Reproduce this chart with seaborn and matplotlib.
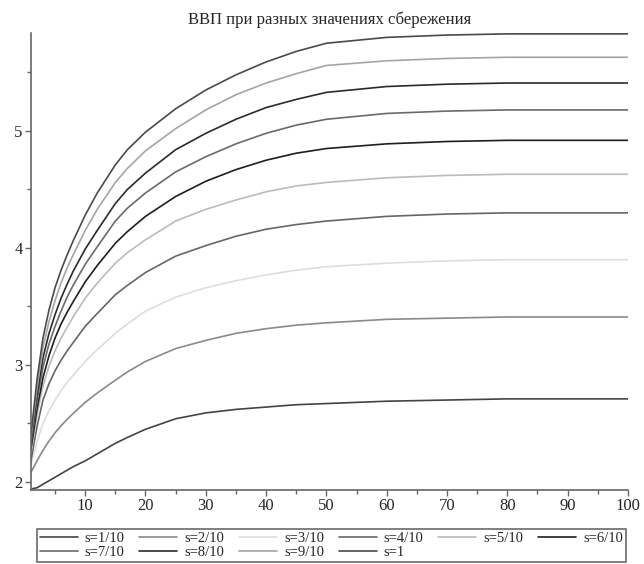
import pandas as pd
import seaborn as sns
import matplotlib.pyplot as plt
from matplotlib.ticker import MultipleLocator

# ------------------------------- Data ----------------------------------------------

t = [1, 2, 3, 4, 5, 6, 7, 8, 10, 12, 15, 17, 20, 25, 30, 35, 40, 45, 50, 60, 70, 80, 90, 100]

labels = ["s=1/10", "s=2/10", "s=3/10", "s=4/10", "s=5/10",
          "s=6/10", "s=7/10", "s=8/10", "s=9/10", "s=1"]

gdp_s01 = [1.94, 1.95, 1.98, 2.01, 2.04, 2.07, 2.10, 2.13, 2.18, 2.24, 2.33, 2.38, 2.45, 2.54, 2.59, 2.62, 2.64, 2.66, 2.67, 2.69, 2.70, 2.71, 2.71, 2.71]
gdp_s02 = [2.08, 2.18, 2.27, 2.35, 2.42, 2.48, 2.535, 2.585, 2.68, 2.76, 2.87, 2.94, 3.03, 3.14, 3.21, 3.27, 3.31, 3.34, 3.36, 3.39, 3.40, 3.41, 3.41, 3.41]
gdp_s03 = [2.14, 2.34, 2.50, 2.61, 2.70, 2.78, 2.85, 2.91, 3.03, 3.13, 3.27, 3.35, 3.46, 3.58, 3.66, 3.72, 3.77, 3.81, 3.84, 3.87, 3.89, 3.90, 3.90, 3.90]
gdp_s04 = [2.18, 2.47, 2.70, 2.84, 2.95, 3.04, 3.12, 3.19, 3.33, 3.44, 3.60, 3.68, 3.79, 3.93, 4.02, 4.10, 4.16, 4.20, 4.23, 4.27, 4.29, 4.30, 4.30, 4.30]
gdp_s05 = [2.25, 2.57, 2.82, 2.99, 3.12, 3.23, 3.32, 3.41, 3.57, 3.70, 3.87, 3.96, 4.07, 4.23, 4.33, 4.41, 4.48, 4.53, 4.56, 4.60, 4.62, 4.63, 4.63, 4.63]
gdp_s06 = [2.28, 2.62, 2.89, 3.08, 3.23, 3.35, 3.45, 3.54, 3.71, 3.85, 4.04, 4.14, 4.27, 4.44, 4.57, 4.67, 4.75, 4.81, 4.85, 4.89, 4.91, 4.92, 4.92, 4.92]
gdp_s07 = [2.32, 2.69, 2.98, 3.18, 3.33, 3.46, 3.58, 3.68, 3.86, 4.01, 4.23, 4.34, 4.47, 4.65, 4.78, 4.89, 4.98, 5.05, 5.10, 5.15, 5.17, 5.18, 5.18, 5.18]
gdp_s08 = [2.34, 2.74, 3.06, 3.27, 3.43, 3.57, 3.69, 3.80, 3.99, 4.15, 4.38, 4.50, 4.64, 4.84, 4.98, 5.10, 5.20, 5.27, 5.33, 5.38, 5.40, 5.41, 5.41, 5.41]
gdp_s09 = [2.37, 2.80, 3.15, 3.37, 3.55, 3.70, 3.83, 3.94, 4.15, 4.33, 4.56, 4.68, 4.83, 5.02, 5.18, 5.31, 5.41, 5.49, 5.56, 5.60, 5.62, 5.63, 5.63, 5.63]
gdp_s10 = [2.40, 2.87, 3.23, 3.47, 3.66, 3.81, 3.94, 4.06, 4.28, 4.47, 4.71, 4.84, 4.99, 5.19, 5.35, 5.48, 5.59, 5.68, 5.75, 5.80, 5.82, 5.83, 5.83, 5.83]

colors = ["#444444", "#8a8a8a", "#dddddd", "#666666", "#bbbbbb",
          "#1e1e1e", "#6a6a6a", "#2a2a2a", "#a5a5a5", "#4a4a4a"]

series = [gdp_s01, gdp_s02, gdp_s03, gdp_s04, gdp_s05,
          gdp_s06, gdp_s07, gdp_s08, gdp_s09, gdp_s10]

df = pd.concat([pd.DataFrame({"t": t, "gdp": vals, "s": lab})
                for lab, vals in zip(labels, series)], ignore_index=True)

# ------------------------------- Plot ----------------------------------------------

sns.set_style("ticks")
plt.rcParams['font.family'] = ['Liberation Serif', 'DejaVu Serif']

fig = plt.figure(figsize=(6.44, 5.64), dpi=100)
ax = fig.add_axes([0.048, 0.131, 0.927, 0.811])

sns.lineplot(data=df, x="t", y="gdp", hue="s", hue_order=labels,
             palette=dict(zip(labels, colors)), linewidth=1.2, ax=ax)

ax.set_xlim(1, 100)
ax.set_ylim(1.93, 5.84)
ax.xaxis.set_major_locator(MultipleLocator(10))
ax.xaxis.set_minor_locator(MultipleLocator(5))
ax.set_yticks([2, 3, 4, 5])
ax.yaxis.set_minor_locator(MultipleLocator(0.5))
ax.set_xlabel("")
ax.set_ylabel("")
ax.tick_params(axis="both", which="major", direction="out", length=4, width=1,
               color="#666666", labelsize=12, pad=2)
ax.tick_params(axis="both", which="minor", direction="out", length=3, width=1,
               color="#666666")
sns.despine(ax=ax)
for side in ["left", "bottom"]:
    ax.spines[side].set_color("#666666")
    ax.spines[side].set_linewidth(1.2)

ax.set_title("ВВП при разных значениях сбережения", fontsize=12, pad=6)

# legend is filled row by row in the reference; matplotlib fills by column
handles, labs = ax.get_legend_handles_labels()
ax.get_legend().remove()
order = [0, 6, 1, 7, 2, 8, 3, 9, 4, 5]
leg = fig.legend([handles[i] for i in order], [labs[i] for i in order],
                 ncol=6, loc="lower left",
                 bbox_to_anchor=(0.057, 0.003, 0.915, 0.068), mode="expand",
                 fontsize=10.5, frameon=True, fancybox=False, edgecolor="#444444",
                 handlelength=2.6, handletextpad=0.5, columnspacing=0.6,
                 borderpad=0.2, labelspacing=0.05, borderaxespad=0)
leg.get_frame().set_linewidth(1.2)

plt.savefig("out.png", dpi=100)
plt.close()
